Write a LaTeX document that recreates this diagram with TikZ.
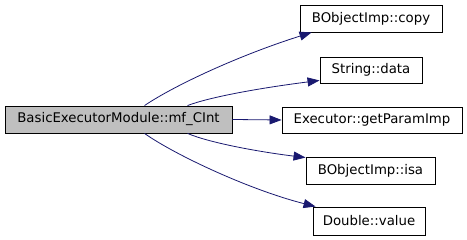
\documentclass[tikz,border=0pt]{standalone}
\usepackage{fontspec}
\setmainfont{DejaVu Sans}
\usetikzlibrary{arrows.meta,calc}
\definecolor{edgeblue}{HTML}{191970}
\definecolor{mainfill}{HTML}{BFBFBF}
\tikzset{
  fn/.style={draw=black, line width=0.9pt, fill=white, inner sep=0pt, font=\fontsize{13.3}{15}\selectfont, anchor=center},
  mainfn/.style={fn, fill=mainfill},
  call/.style={draw=edgeblue, line width=0.8pt, -{Triangle[length=12pt,width=9pt]}, edgeblue}
}
\begin{document}
\begin{tikzpicture}[x=1pt,y=1pt]
\useasboundingbox (0,0) rectangle (467,240);
\node[mainfn, minimum width=227pt, minimum height=27pt] (main) at (118.5,120.5) {BasicExecutorModule::mf\_CInt};
\node[fn, minimum width=142pt, minimum height=27pt] (copy) at (371,221.5) {BObjectImp::copy};
\node[fn, minimum width=102pt, minimum height=26pt] (data) at (371,170) {String::data};
\node[fn, minimum width=180pt, minimum height=26pt] (param) at (372,120) {Executor::getParamImp};
\node[fn, minimum width=129pt, minimum height=27pt] (isa) at (370.5,69.5) {BObjectImp::isa};
\node[fn, minimum width=112pt, minimum height=28pt] (value) at (369,19) {Double::value};
\coordinate (s1) at ($(main.north west)+(140,0)$);
\coordinate (s2) at ($(main.north west)+(183,0)$);
\coordinate (s4) at ($(main.south west)+(183,0)$);
\coordinate (s5) at ($(main.south west)+(140,0)$);
\draw[call] (s1) .. controls (175,155) and (240,185) .. ($(copy.south west)+(12,0)$);
\draw[call] (s2) .. controls (210,143) and (260,152) .. ($(data.south west)+(0,3)$);
\draw[call] (main.east) -- (param.west);
\draw[call] (s4) .. controls (210,97) and (260,88) .. ($(isa.north west)+(0,-1)$);
\draw[call] (s5) .. controls (175,85) and (250,50) .. ($(value.north west)+(3,0)$);
\end{tikzpicture}
\end{document}
